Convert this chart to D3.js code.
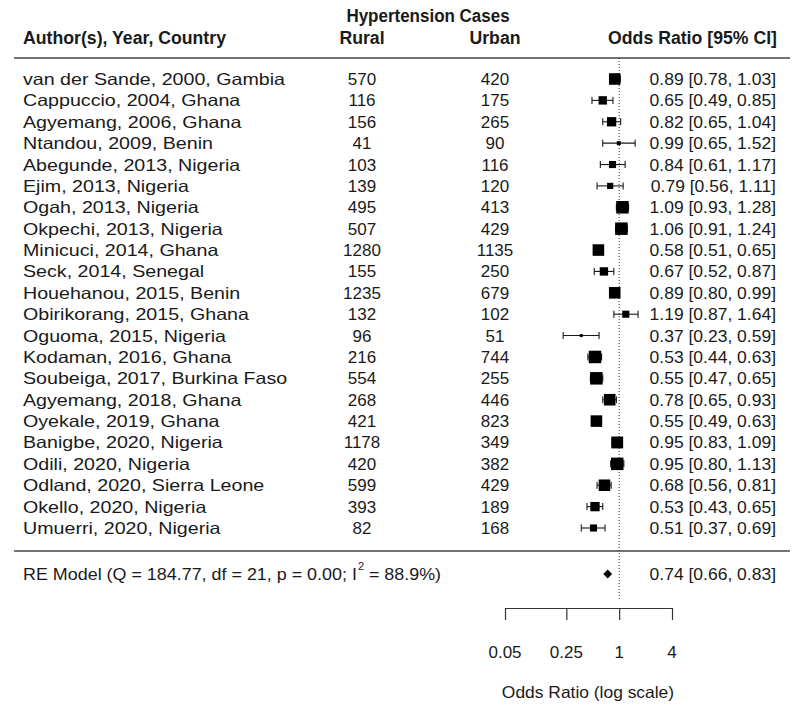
<!DOCTYPE html>
<html><head><meta charset="utf-8">
<script src="https://cdn.jsdelivr.net/npm/d3@7"></script>
<style>body{margin:0;background:#fff}svg{display:block}</style>
</head><body>
<svg id="c" width="800" height="713"></svg>
<script>
const studies = ["van der Sande, 2000, Gambia","Cappuccio, 2004, Ghana","Agyemang, 2006, Ghana","Ntandou, 2009, Benin","Abegunde, 2013, Nigeria","Ejim, 2013, Nigeria","Ogah, 2013, Nigeria","Okpechi, 2013, Nigeria","Minicuci, 2014, Ghana","Seck, 2014, Senegal","Houehanou, 2015, Benin","Obirikorang, 2015, Ghana","Oguoma, 2015, Nigeria","Kodaman, 2016, Ghana","Soubeiga, 2017, Burkina Faso","Agyemang, 2018, Ghana","Oyekale, 2019, Ghana","Banigbe, 2020, Nigeria","Odili, 2020, Nigeria","Odland, 2020, Sierra Leone","Okello, 2020, Nigeria","Umuerri, 2020, Nigeria"];
const rural = [570,116,156,41,103,139,495,507,1280,155,1235,132,96,216,554,268,421,1178,420,599,393,82];
const urban = [420,175,265,90,116,120,413,429,1135,250,679,102,51,744,255,446,823,349,382,429,189,168];
const orEst = [0.89,0.65,0.82,0.99,0.84,0.79,1.09,1.06,0.58,0.67,0.89,1.19,0.37,0.53,0.55,0.78,0.55,0.95,0.95,0.68,0.53,0.51];
const ciLow = [0.78,0.49,0.65,0.65,0.61,0.56,0.93,0.91,0.51,0.52,0.80,0.87,0.23,0.44,0.47,0.65,0.49,0.83,0.80,0.56,0.43,0.37];
const ciHigh = [1.03,0.85,1.04,1.52,1.17,1.11,1.28,1.24,0.65,0.87,0.99,1.64,0.59,0.63,0.65,0.93,0.63,1.09,1.13,0.81,0.65,0.69];
const weights = [4.7,3.7,4.0,2.3,3.3,3.0,5.0,5.0,4.7,3.7,4.7,3.3,2.0,5.0,5.0,4.7,4.7,4.8,5.0,4.7,4.0,3.3];
const pooled = {est:0.74, lo:0.66, hi:0.83};
const modelLabel = "RE Model (Q = 184.77, df = 21, p = 0.00; I";
const modelLabelEnd = "= 88.9%)";
const tickValues = [0.05, 0.25, 1, 4];
const tickLabels = ["0.05","0.25","1","4"];

const svg = d3.select("#c");
const ink = "#1a1a1a";
const BODY = "'Liberation Sans', Arial, sans-serif";

const x = d3.scaleLog().domain([0.05, 4]).range([505, 672]);
const y = d3.scaleLinear().domain([0, studies.length - 1]).range([79, 528]);
const yModel = 574;
const size = d3.scaleLinear().domain([d3.min(weights), d3.max(weights)]).range([3, 12.5]);

function txt(xp, yp, s, opt = {}) {
  const t = svg.append("text").attr("x", xp).attr("y", yp)
    .attr("dominant-baseline", "central")
    .attr("font-family", BODY)
    .attr("font-size", opt.size || 16.5)
    .attr("font-weight", opt.bold ? "bold" : "normal")
    .attr("text-anchor", opt.anchor || "start")
    .attr("fill", ink).text(s);
  const f = opt.stretch == null ? 1.0 : opt.stretch;
  const len = t.node().getComputedTextLength();
  t.attr("textLength", len * f).attr("lengthAdjust", "spacingAndGlyphs");
  t.natural = len * f;
  return t;
}

// headers
const H = {bold:true, size:17.5, stretch:1.01};
txt(428, 16, "Hypertension Cases", {...H, anchor:"middle", stretch:0.97});
txt(23, 38, "Author(s), Year, Country", H);
txt(362, 38, "Rural", {...H, anchor:"middle"});
txt(495, 38, "Urban", {...H, anchor:"middle"});
txt(777, 38, "Odds Ratio [95% CI]", {...H, anchor:"end"});

// rule lines
svg.append("line").attr("x1", 14).attr("x2", 790).attr("y1", 58).attr("y2", 58).attr("stroke", "#444").attr("stroke-width", 1.3);
svg.append("line").attr("x1", 14).attr("x2", 790).attr("y1", 551).attr("y2", 551).attr("stroke", "#444").attr("stroke-width", 1.3);

// reference line at OR = 1
svg.append("line").attr("x1", x(1)).attr("x2", x(1)).attr("y1", 58).attr("y2", 600)
  .attr("stroke", "#333").attr("stroke-width", 1).attr("stroke-dasharray", "1,2");

const fmt = d3.format(".2f");
studies.forEach((s, i) => {
  const yy = y(i);
  txt(23, yy, s, {stretch:1.19});
  txt(362, yy, rural[i], {anchor:"middle", stretch:1.03});
  txt(495, yy, urban[i], {anchor:"middle", stretch:1.03});
  txt(776, yy, `${fmt(orEst[i])} [${fmt(ciLow[i])}, ${fmt(ciHigh[i])}]`, {anchor:"end", stretch:1.06});
  const g = svg.append("g").attr("stroke", ink).attr("stroke-width", 1.1);
  g.append("line").attr("x1", x(ciLow[i])).attr("x2", x(ciHigh[i])).attr("y1", yy).attr("y2", yy);
  g.append("line").attr("x1", x(ciLow[i])).attr("x2", x(ciLow[i])).attr("y1", yy - 3.5).attr("y2", yy + 3.5);
  g.append("line").attr("x1", x(ciHigh[i])).attr("x2", x(ciHigh[i])).attr("y1", yy - 3.5).attr("y2", yy + 3.5);
  const sz = size(weights[i]);
  svg.append("rect").attr("x", x(orEst[i]) - sz / 2).attr("y", yy - sz / 2)
    .attr("width", sz).attr("height", sz).attr("fill", "#000");
});

// pooled model
const ml = txt(23, yModel, modelLabel, {stretch:1.085});
const mlEnd = 23 + ml.natural;
svg.append("text").attr("x", mlEnd + 1).attr("y", yModel - 8).attr("font-family", BODY)
  .attr("font-size", 11).attr("fill", ink).attr("dominant-baseline", "central").text("2");
txt(mlEnd + 12, yModel, modelLabelEnd, {stretch:1.085});
txt(776, yModel, `${fmt(pooled.est)} [${fmt(pooled.lo)}, ${fmt(pooled.hi)}]`, {anchor:"end", stretch:1.06});
svg.append("path").attr("fill", "#000")
  .attr("d", `M${x(pooled.lo)},${yModel} L${x(pooled.est)},${yModel - 4.5} L${x(pooled.hi)},${yModel} L${x(pooled.est)},${yModel + 4.5} Z`);

// axis (ticks downward, line on top)
const ax = svg.append("g").attr("transform", "translate(0,608)")
  .call(d3.axisBottom(x).tickValues(tickValues).tickFormat((d, i) => tickLabels[i]).tickSize(12).tickSizeOuter(0));
ax.select(".domain").attr("stroke", "#333").attr("stroke-width", 1.2);
ax.selectAll(".tick line").attr("stroke", "#333").attr("stroke-width", 1.2);
ax.selectAll(".tick text").remove();
tickValues.forEach((v, i) => txt(x(v), 652, tickLabels[i], {anchor:"middle", stretch:1.03}));
txt(588, 692, "Odds Ratio (log scale)", {anchor:"middle", stretch:1.055});
</script>
</body></html>
